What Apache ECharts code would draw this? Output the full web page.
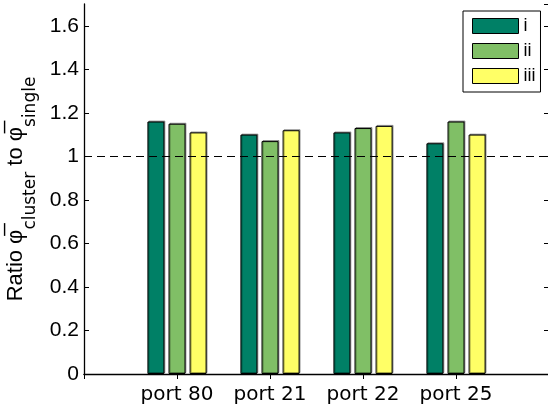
<!DOCTYPE html>
<html>
<head>
<meta charset="utf-8">
<script src="https://cdn.jsdelivr.net/npm/echarts@6/dist/echarts.min.js"></script>
<style>
  html, body { margin: 0; padding: 0; background: #fff; }
  #main { width: 548px; height: 413px; }
</style>
</head>
<body>
<div id="main"></div>
<script>
// 类目（两端留空，让端口落在 1..4 的位置）
const categories = ['', 'port 80', 'port 21', 'port 22', 'port 25', '']
// 三组比值
const seriesI = [null, 1.16, 1.10, 1.11, 1.06, null]
const seriesII = [null, 1.15, 1.07, 1.13, 1.16, null]
const seriesIII = [null, 1.11, 1.12, 1.14, 1.10, null]
const seriesNames = ['i', 'ii', 'iii']
const yTicks = [0, 0.2, 0.4, 0.6, 0.8, 1, 1.2, 1.4, 1.6]

// summer 色图
const colors = ['#008066', '#80bf66', '#ffff66']
const font = 'Liberation Sans, Arial, sans-serif'
const wideFont = 'DejaVu Sans, sans-serif'

const myChart = echarts.init(document.getElementById('main'))

const barStyle = {
  borderColor: '#000',
  borderWidth: 1,
  borderRadius: 0,
  shadowColor: 'rgba(0,0,0,0.35)',
  shadowBlur: 0,
  shadowOffsetX: 1,
  shadowOffsetY: -1
}

function makeBar (name, data, idx) {
  return {
    name: name,
    type: 'bar',
    data: data,
    barWidth: 17,
    barGap: '24%',
    itemStyle: Object.assign({ color: colors[idx] }, barStyle),
    emphasis: { disabled: true }
  }
}

const series = [
  makeBar(seriesNames[0], seriesI, 0),
  makeBar(seriesNames[1], seriesII, 1),
  makeBar(seriesNames[2], seriesIII, 2)
]
// 虚线 y = 1
series[2].markLine = {
  silent: true,
  symbol: 'none',
  label: { show: false },
  lineStyle: { color: '#000', width: 1, type: [8, 5] },
  data: [{ yAxis: 1 }]
}

const option = {
  animation: false,
  textStyle: { fontFamily: font },
  grid: { left: 84, right: -1, top: 4, bottom: 39, outerBoundsMode: 'none', containLabel: false },
  legend: {
    orient: 'vertical',
    left: 463,
    top: 11,
    padding: [6, 5, 7, 9],
    icon: 'rect',
    itemWidth: 46,
    itemHeight: 15,
    itemGap: 7,
    backgroundColor: '#fff',
    borderColor: '#000',
    borderWidth: 1,
    borderRadius: 0,
    selectedMode: false,
    itemStyle: { borderColor: '#000', borderWidth: 1, shadowBlur: 0, shadowOffsetX: 0, shadowOffsetY: 0 },
    textStyle: { fontFamily: font, fontSize: 18, color: '#000' },
    data: seriesNames
  },
  xAxis: [
    {
      type: 'category',
      data: categories,
      boundaryGap: false,
      axisLine: { lineStyle: { color: '#000', width: 1.3 } },
      axisTick: { show: false },
      axisLabel: { fontFamily: wideFont, fontSize: 20, color: '#000', margin: 11, interval: 0 },
      splitLine: { show: false }
    },
    {
      type: 'category',
      data: categories,
      boundaryGap: false,
      position: 'top',
      axisLine: { lineStyle: { color: '#000', width: 1 } },
      axisTick: { inside: true, length: 5, lineStyle: { color: '#000' }, interval: 0 },
      axisLabel: { show: false },
      splitLine: { show: false }
    }
  ],
  yAxis: [
    {
      type: 'value',
      min: 0,
      max: 1.7,
      interval: 0.2,
      axisLine: { show: true, lineStyle: { color: '#000', width: 1.3 } },
      axisTick: { show: true, inside: true, length: 5, lineStyle: { color: '#000' } },
      axisLabel: {
        fontFamily: font,
        fontSize: 21,
        color: '#000',
        margin: 5,
        showMaxLabel: false,
        formatter: function (v) {
          const t = yTicks.find(function (x) { return Math.abs(x - v) < 1e-6 })
          return t === undefined ? '' : String(t)
        }
      },
      splitLine: { show: false },
      name: '{m|Ratio φ̅}{s|cluster}{m| to φ̅}{s|single}',
      nameLocation: 'middle',
      nameRotate: 90,
      nameGap: 44,
      nameTextStyle: {
        rich: {
          m: { fontFamily: font, fontSize: 22, color: '#000' },
          s: { fontFamily: wideFont, fontSize: 17, color: '#000', padding: [29, 0, 0, 0] }
        }
      }
    },
    {
      type: 'value',
      min: 0,
      max: 1.7,
      interval: 0.2,
      position: 'right',
      axisLine: { show: true, lineStyle: { color: '#000', width: 1 } },
      axisTick: { show: true, inside: true, length: 5, lineStyle: { color: '#000' } },
      axisLabel: { show: false },
      splitLine: { show: false }
    }
  ],
  series: series
}

myChart.setOption(option)
</script>
</body>
</html>
